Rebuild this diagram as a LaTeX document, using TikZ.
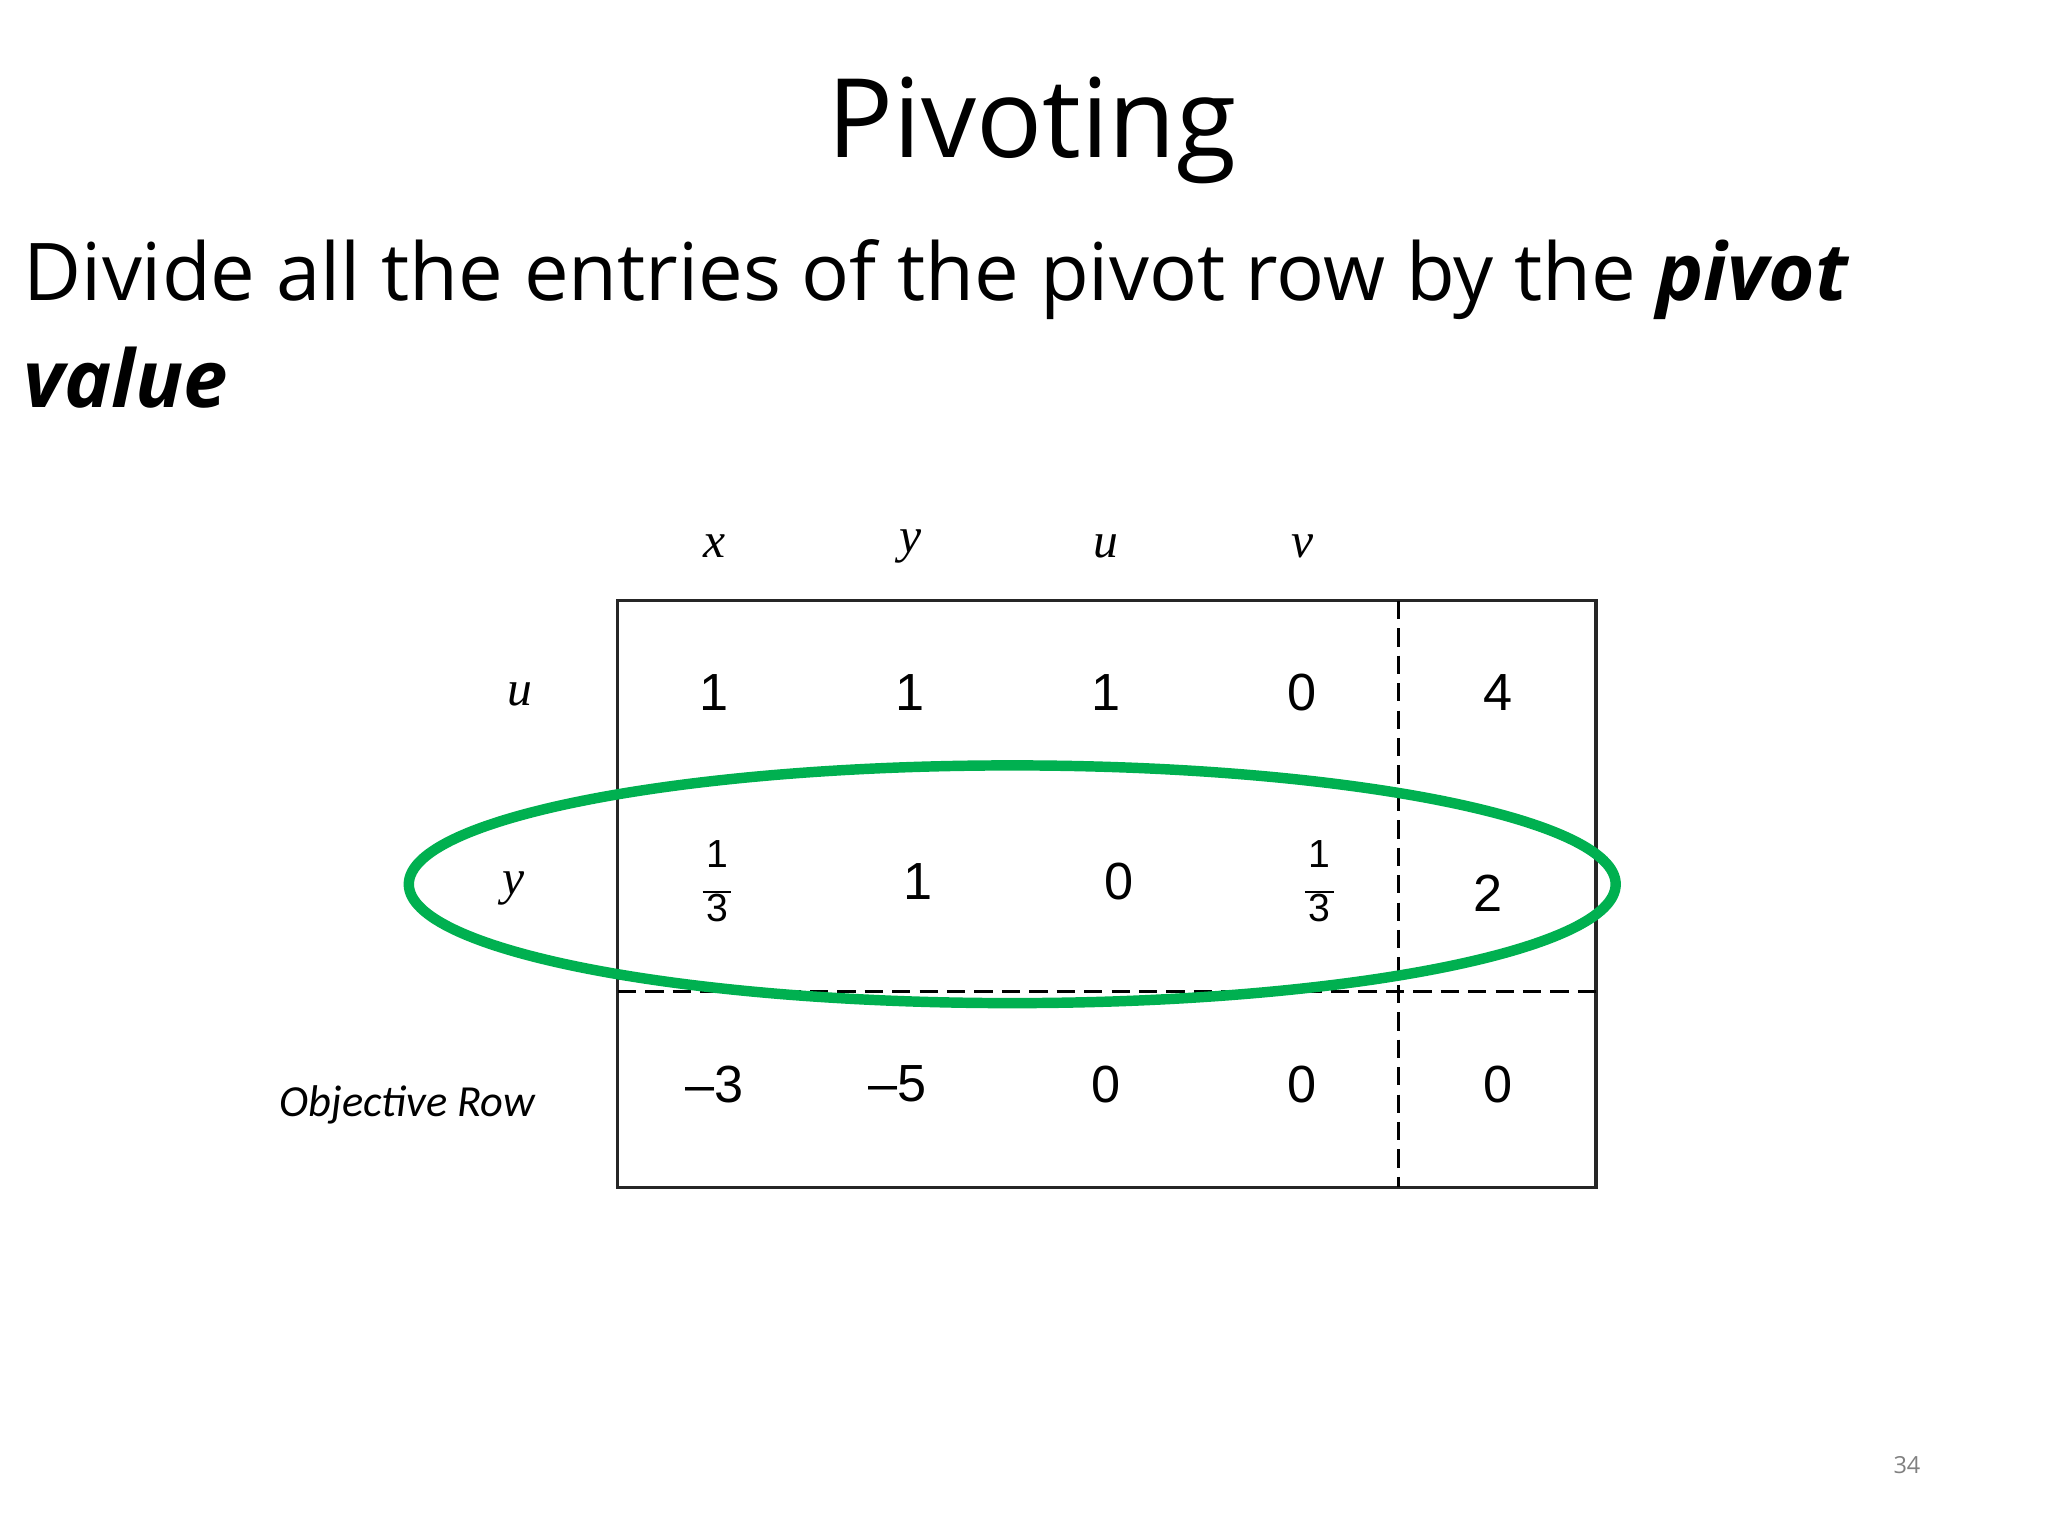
\documentclass[tikz,border=0pt]{standalone}
\usepackage{fontspec}
\setmainfont{Open Sans}
\newfontfamily\calfont{Carlito}
\newfontfamily\numfont{Liberation Sans}
\newfontfamily\varfont{Liberation Serif}
\newcommand{\myfrac}{\begin{tabular}{@{}c@{}}1\\[-14pt]\rule{22pt}{1.5pt}\\[-12pt]3\end{tabular}}
\begin{document}
\begin{tikzpicture}[x=1pt,y=-1pt,
  num/.style={font=\numfont\fontsize{40}{44}\selectfont,inner sep=0},
  var/.style={font=\varfont\itshape\fontsize{38}{42}\selectfont,inner sep=0},
  frac/.style={font=\numfont\fontsize{30}{34}\selectfont,inner sep=0}]
\useasboundingbox (0,0) rectangle (1568,1176);
\node[font=\fontsize{84}{96}\selectfont] (title) at (790,100) {Pivoting};
\node[anchor=base west,font=\fontsize{61}{74}\selectfont,inner sep=0] (l1) at (18,230) {Divide all the entries of the pivot row by the \textbf{\textit{pivot}}};
\node[anchor=base west,font=\fontsize{61}{74}\selectfont,inner sep=0] (l2) at (18,312) {\textbf{\textit{value}}};
\foreach \v/\x in {x/547,y/697,u/847,v/997} \node[var] (h\v) at (\x,418) {\v};
\draw[line width=2.5pt,black!85] (473,460) rectangle (1222,909);
\coordinate (vt) at (1071,460); \coordinate (vb) at (1071,909);
\coordinate (hl) at (473,759); \coordinate (hr) at (1222,759);
\draw[line width=2.2pt,dash pattern=on 14pt off 7pt] (vt) -- (vb);
\draw[line width=2.2pt,dash pattern=on 14pt off 7pt] (hl) -- (hr);
\node[var] (ru) at (398,532) {u};
\foreach \t/\x [count=\i] in {1/547,1/697,1/847,0/997,4/1147} \node[num] (a\i) at (\x,530) {\t};
\node[var] (ry) at (393,680) {y};
\node[frac] (b1) at (549,678) {\myfrac};
\node[num] (b2) at (703,675) {1};
\node[num] (b3) at (857,675) {0};
\node[frac] (b4) at (1010,678) {\myfrac};
\node[num] (b5) at (1139,684) {2};
\node[font=\calfont\itshape\fontsize{34}{40}\selectfont] (obj) at (312,846) {Objective Row};
\foreach \t/\x [count=\i] in {\textendash3/547,\textendash5/687,0/847,0/997,0/1147} \node[num] (c\i) at (\x,830) {\t};
\definecolor{grn}{RGB}{0,176,80}
\draw[grn,line width=8pt] (775,677) ellipse [x radius=462, y radius=91];
\node[font=\fontsize{18}{24}\selectfont,text=gray] (pg) at (1460,1122) {34};
\end{tikzpicture}
\end{document}
